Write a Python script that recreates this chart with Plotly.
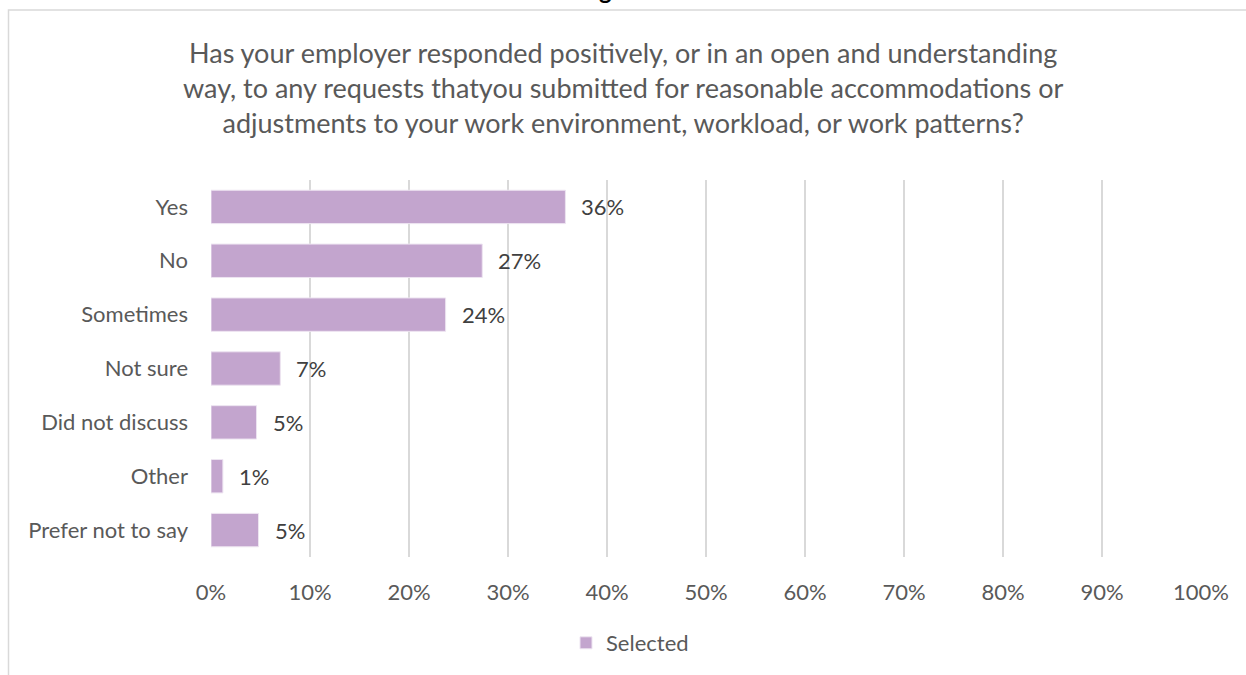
import plotly.graph_objects as go

# Survey responses (share of respondents)
categories = ["Yes", "No", "Sometimes", "Not sure", "Did not discuss", "Other", "Prefer not to say"]
selected = [0.358, 0.274, 0.237, 0.070, 0.046, 0.012, 0.048]
tick_values = [i / 10 for i in range(11)]

title_text = ("Has your employer responded positively, or in an open and understanding<br>"
              "way, to any requests thatyou submitted for reasonable accommodations or<br>"
              "adjustments to your work environment, workload, or work patterns?")

W, H = 1246, 675
L, R, T, B = 211, 45, 180, 117
PW, PH = W - L - R, H - T - B


def px_x(px):
    return (px - L) / PW


def px_y(py):
    return 1 - (py - T) / PH


FONT = "Lato"
BAR = "#C3A5CE"

fig = go.Figure()
fig.add_trace(go.Bar(
    x=selected,
    y=categories,
    orientation="h",
    name="Selected",
    marker=dict(color=BAR, line=dict(color="#EDE4F1", width=1)),
    hoverinfo="x+y",
))

# value labels to the right of each bar
for cat, val in zip(categories, selected):
    fig.add_annotation(
        x=val, y=cat, xref="x", yref="y",
        text=f"{val:.0%}", showarrow=False,
        xanchor="left", xshift=14,
        font=dict(family=FONT, size=22, color="#404040"),
    )

# chart title
fig.add_annotation(
    x=px_x(623), y=px_y(87), xref="paper", yref="paper",
    text=title_text, showarrow=False,
    xanchor="center", yanchor="middle", align="center",
    font=dict(family=FONT, size=27, color="#595959"),
)

# caption fragment from the page above
fig.add_annotation(
    x=px_x(605), y=px_y(6), xref="paper", yref="paper",
    text="<b>g</b>", showarrow=False,
    xanchor="center", yanchor="bottom",
    font=dict(family=FONT, size=24, color="#000000"),
)

# chart frame
fig.add_shape(
    type="rect", xref="paper", yref="paper",
    x0=px_x(8.5), x1=px_x(1300), y0=px_y(9.5), y1=px_y(720),
    line=dict(color="#D9D9D9", width=1.5), fillcolor="rgba(0,0,0,0)",
    layer="below",
)

fig.update_layout(
    width=W, height=H,
    margin=dict(l=L, r=R, t=T, b=B, pad=0),
    paper_bgcolor="white", plot_bgcolor="white",
    bargap=0.38,
    showlegend=True,
    legend=dict(
        orientation="h", x=px_x(566), y=px_y(643),
        xanchor="left", yanchor="middle",
        font=dict(family=FONT, size=22, color="#595959"),
        bgcolor="rgba(0,0,0,0)",
    ),
    xaxis=dict(
        range=[0, 1], tickvals=tick_values, tickformat=".0%",
        showgrid=True, gridcolor="#D9D9D9", gridwidth=1.5,
        zeroline=False, showline=False, ticks="",
        ticklabelstandoff=20,
        tickfont=dict(family=FONT, size=22, color="#595959"),
        fixedrange=True,
    ),
    yaxis=dict(
        categoryorder="array", categoryarray=categories,
        autorange="reversed",
        showgrid=False, zeroline=False, showline=False, ticks="",
        ticklabelstandoff=22,
        tickfont=dict(family=FONT, size=22, color="#595959"),
        fixedrange=True,
    ),
)

fig.write_html("out.html")
